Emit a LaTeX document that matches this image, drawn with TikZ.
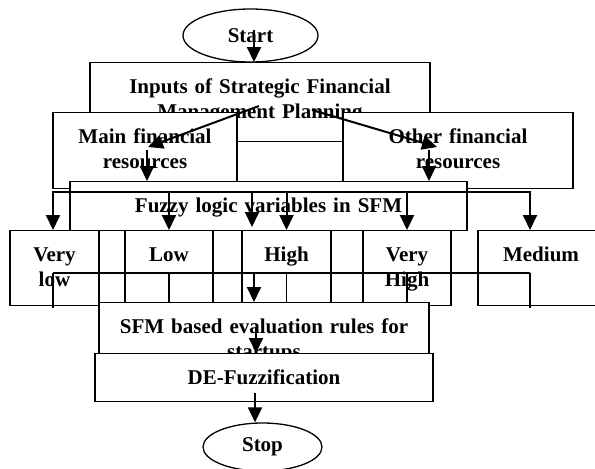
\documentclass[tikz,border=0pt]{standalone}
\usepackage{fontspec}
\setmainfont{Liberation Serif}
\usetikzlibrary{arrows.meta,shapes.geometric}
\tikzset{
	every node/.style={font=\bfseries\fontsize{21pt}{25pt}\selectfont},
	fbox/.style={draw, fill=white, line width=1.3pt, inner xsep=2pt, inner ysep=0pt, align=center, text height=31pt, anchor=north},
	term/.style={draw, ellipse, fill=white, line width=1.3pt, inner sep=0pt},
	flow/.style={line width=2pt, -{Triangle[width=14pt,length=15pt]}},
	bus/.style={line width=1.6pt}
}

\begin{document}
\begin{tikzpicture}[x=1pt, y=-1pt]
			%%%%% START %%%%%
			\useasboundingbox (0,0) rectangle (595,469);
			
			\node[term, minimum width=135pt, minimum height=53pt] (start) at (250.5,35.5) {Start};
			\node[fbox, text width=336pt, text depth=48pt] (inputs) at (260,62) {Inputs of Strategic Financial\\Management Planning};
			\node[fbox, text width=180pt, text depth=45pt] (mainres) at (145,112) {Main financial\\resources};
			\node[fbox, text width=226pt, text depth=45pt] (otherres) at (458,112) {Other financial\\resources};
			
			\coordinate (s0) at (254,30);
			\draw[flow] (s0) -- (s0 |- inputs.north);
			\coordinate (m0) at (259,106);
			\coordinate (m1) at (148,147);
			\coordinate (o0) at (312,110);
			\coordinate (o1) at (437,147);
			\draw[flow] (m0) -- (m1);
			\draw[flow] (o0) -- (o1);
			
			\node[fbox, text width=393pt, text depth=18pt] (fuzzy) at (268.5,181) {Fuzzy logic variables in SFM};
			\coordinate (m2) at (147,150);
			\coordinate (o2) at (429,150);
			\draw[flow] (m2) -- (m2 |- fuzzy.north);
			\draw[flow] (o2) -- (o2 |- fuzzy.north);
			
			% levels
			\node[fbox, text width=85pt, text depth=44pt] (vlow) at (54.5,230) {Very\\low};
			\node[fbox, text width=348pt, text depth=44pt] (rowframe) at (275,230) {};
			\node[fbox, text width=84pt, text depth=44pt] (low) at (169,230) {Low};
			\node[fbox, text width=85pt, text depth=44pt] (high) at (286.5,230) {High};
			\node[fbox, text width=84pt, text depth=44pt] (vhigh) at (407,230) {Very\\High};
			\node[fbox, text width=122pt, text depth=44pt] (medium) at (541,230) {Medium};
			
			\coordinate (b1w) at (53,192);
			\coordinate (b1e) at (530,192);
			\coordinate (b1x) at (252,192);
			\draw[flow] (b1e) -- (b1w) -- (b1w |- vlow.north);
			\draw[flow] (b1w) -- (b1e) -- (b1e |- medium.north);
			\draw[flow] (b1w -| low.north) -- (low.north);
			\draw[flow] (b1x) -- ++(0,35);
			\draw[flow] (b1w -| high.north) -- (high.north);
			\draw[flow] (b1w -| vhigh.north) -- (vhigh.north);
			
			\coordinate (b2w) at (53,273);
			\coordinate (b2e) at (530,273);
			\coordinate (b2x) at (254,273);
			\draw[bus] (b2w) -- (b2e);
			\foreach \n in {b2w,b2e} \draw[bus] (\n) -- ++(0,35);
			\foreach \n in {low,high,vhigh} \draw[bus] (b2w -| \n.south) -- ++(0,35);
			
			% rules and output
			\node[fbox, text width=326pt, text depth=39pt] (sfm) at (264,302) {SFM based evaluation rules for\\startups};
			\draw[flow] (b2x) -- (b2x |- sfm.north);
			\node[fbox, text width=334pt, text depth=17pt] (defuzz) at (264,353) {DE-Fuzzification};
			\coordinate (f0) at (256,327);
			\draw[flow] (f0) -- (f0 |- defuzz.north);
			
			\node[term, minimum width=119pt, minimum height=48pt] (stop) at (262.5,447) {Stop};
			\coordinate (d0) at (255,393);
			\draw[flow] (d0) -- (d0 |- stop.north);
			%%%%% END %%%%%
\end{tikzpicture}
\end{document}
